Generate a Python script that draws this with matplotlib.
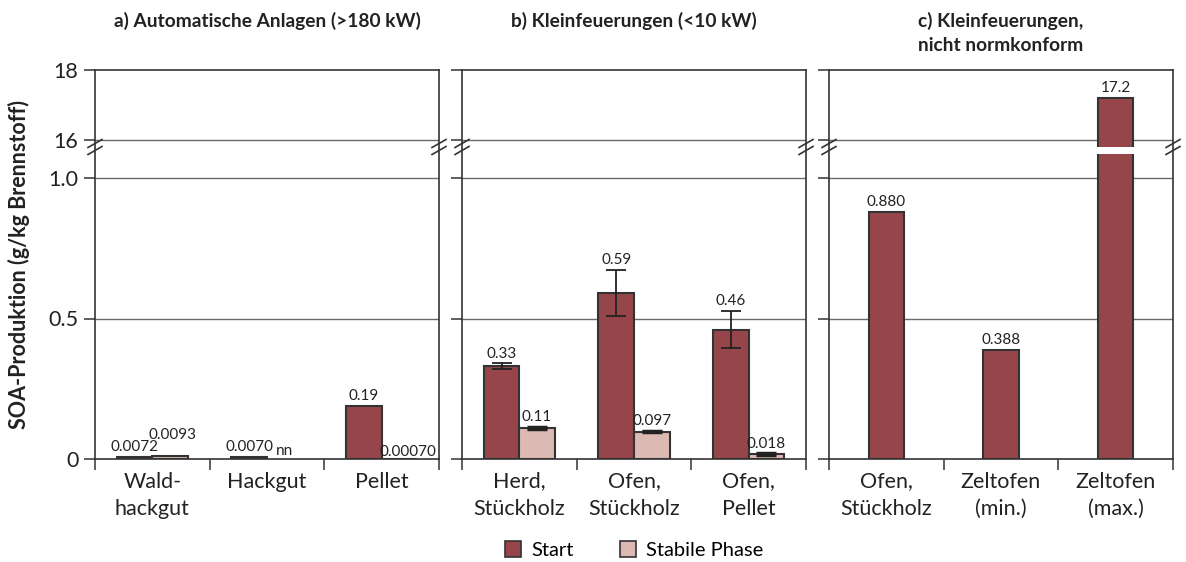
import matplotlib
import numpy as np
matplotlib.use('Agg')
import matplotlib.pyplot as plt
from matplotlib.patches import Patch, Rectangle

plt.rcParams['font.family'] = ['Lato', 'DejaVu Sans']

# data
titles = ["a) Automatische Anlagen (>180 kW)",
          "b) Kleinfeuerungen (<10 kW)",
          "c) Kleinfeuerungen,\nnicht normkonform"]
cats_a = ["Wald-\nhackgut", "Hackgut", "Pellet"]
start_a = [0.0072, 0.0070, 0.19]
stab_a = [0.0093, np.nan, 0.00070]
lab_start_a = ["0.0072", "0.0070", "0.19"]
lab_stab_a = ["0.0093", "nn", "0.00070"]

cats_b = ["Herd,\nStückholz", "Ofen,\nStückholz", "Ofen,\nPellet"]
start_b = [0.33, 0.59, 0.46]
start_b_err = [0.01, 0.082, 0.066]
stab_b = [0.11, 0.097, 0.018]
stab_b_err = [0.004, 0.002, 0.002]
lab_start_b = ["0.33", "0.59", "0.46"]
lab_stab_b = ["0.11", "0.097", "0.018"]

cats_c = ["Ofen,\nStückholz", "Zeltofen\n(min.)", "Zeltofen\n(max.)"]
start_c = [0.880, 0.388, 17.2]
lab_start_c = ["0.880", "0.388", "17.2"]

yticks = [0, 0.5, 1.0, 16, 18]
yticklabels = ["0", "0.5", "1.0", "16", "18"]

c_start = '#96464b'
c_stab = '#dcbab3'
c_edge = '#333333'
c_txt = '#222222'

# broken axis scale: 0..1 linear, 1..16 squeezed, 16..18 compressed
G = 38 / 281.0
K = 35 / 281.0


def fwd(y):
    y = np.asarray(y, dtype=float)
    return np.where(y <= 1, y,
                    np.where(y <= 16, 1 + (y - 1) * G / 15, 1 + G + (y - 16) * K))


def inv(v):
    v = np.asarray(v, dtype=float)
    return np.where(v <= 1, v,
                    np.where(v <= 1 + G, 1 + (v - 1) * 15 / G, 16 + (v - 1 - G) / K))


fig = plt.figure(figsize=(11.86, 5.62), dpi=100)
lefts = [95 / 1186, 462 / 1186, 829 / 1186]
W = 344 / 1186
B = 1 - 459 / 562
H = 389 / 562
axes = [fig.add_axes([l, B, W, H]) for l in lefts]

bw = 0.31
x = np.arange(3)
for i, ax in enumerate(axes):
    ax.set_yscale('function', functions=(fwd, inv))
    ax.set_ylim(0, 18)
    ax.set_xlim(-0.5, 2.5)
    ax.set_yticks(yticks)
    if i == 0:
        ax.set_yticklabels(yticklabels, fontsize=15.5, color=c_txt)
    else:
        ax.set_yticklabels([])
    ax.tick_params(axis='y', direction='out', length=8, width=1.1, color=c_edge, pad=4)
    ax.set_xticks(x)
    ax.set_xticks([-0.5, 0.5, 1.5, 2.5], minor=True)
    ax.tick_params(axis='x', which='major', length=0, pad=9)
    ax.tick_params(axis='x', which='minor', direction='out', length=8, width=1.1, color=c_edge)
    for s in ax.spines.values():
        s.set_color(c_edge)
        s.set_linewidth(1.2)
    for yv in [0.5, 1.0, 16]:
        ax.axhline(yv, color='#6a6a6a', lw=1.0, zorder=0)
    fig.text(lefts[i] + W / 2, 1 - 12 / 562, titles[i], ha='center', va='top',
             fontsize=13.8, fontweight='bold', color=c_txt, linespacing=1.5)
    # break marks
    yb = (459 - 147) / 389
    dx = 7 / 344
    dy = 4 / 389
    for xs in [0, 1]:
        for off in [-3.5 / 389, 3.5 / 389]:
            ax.plot([xs - dx, xs + dx], [yb + off - dy, yb + off + dy],
                    transform=ax.transAxes, color=c_edge, lw=1.2, clip_on=False, zorder=5)


def label(ax, xp, top, txt, dy=2):
    ax.annotate(txt, (xp, top), xytext=(0, dy), textcoords='offset points',
                ha='center', va='bottom', fontsize=11, color=c_txt)


def set_cats(ax, cats):
    ax.set_xticklabels(cats, fontsize=15.5, color=c_txt, linespacing=1.45)


# panel a
ax = axes[0]
ax.bar(x - bw / 2, start_a, bw, color=c_start, edgecolor=c_edge, lw=1.5, zorder=3)
ax.bar(x + bw / 2, stab_a, bw, color=c_stab, edgecolor=c_edge, lw=1.5, zorder=3)
set_cats(ax, cats_a)
for j in range(3):
    label(ax, x[j] - bw / 2, start_a[j], lab_start_a[j], 2)
    sv = 0 if np.isnan(stab_a[j]) else stab_a[j]
    if j == 0:
        label(ax, x[j] + bw / 2 + 0.02, sv, lab_stab_a[j], 10)
    elif j == 1:
        label(ax, x[j] + bw / 2, sv, lab_stab_a[j], 1)
    else:
        label(ax, x[j] + bw / 2 + 0.07, sv, lab_stab_a[j], 0)

# panel b
ax = axes[1]
ax.bar(x - bw / 2, start_b, bw, color=c_start, edgecolor=c_edge, lw=1.5, zorder=3)
ax.bar(x + bw / 2, stab_b, bw, color=c_stab, edgecolor=c_edge, lw=1.5, zorder=3)
ax.errorbar(x - bw / 2, start_b, yerr=start_b_err, fmt='none', ecolor=c_txt,
            elinewidth=1.3, capsize=7, capthick=1.3, zorder=4)
ax.errorbar(x + bw / 2, stab_b, yerr=stab_b_err, fmt='none', ecolor=c_txt,
            elinewidth=1.3, capsize=7, capthick=2.5, zorder=4)
set_cats(ax, cats_b)
for j in range(3):
    label(ax, x[j] - bw / 2, start_b[j] + start_b_err[j], lab_start_b[j], 2)
    label(ax, x[j] + bw / 2, stab_b[j] + stab_b_err[j], lab_stab_b[j], 2)

# panel c
ax = axes[2]
ax.bar(x, start_c, bw, color=c_start, edgecolor=c_edge, lw=1.5, zorder=3)
set_cats(ax, cats_c)
for j in range(3):
    label(ax, x[j], start_c[j], lab_start_c[j], 2)
# white gap through the tall bar at the axis break
ax.add_patch(Rectangle((x[2] - bw / 2 - 0.02, (459 - 154) / 389), bw + 0.04, 7 / 389,
                       transform=ax.get_xaxis_transform(), color='white', zorder=4,
                       lw=0))

fig.text(0.016, B + H * 0.5, "SOA-Produktion (g/kg Brennstoff)", rotation=90,
         ha='center', va='center', fontsize=15.5, fontweight='bold', color=c_txt)

handles = [Patch(facecolor=c_start, edgecolor=c_edge, lw=1.2, label='Start'),
           Patch(facecolor=c_stab, edgecolor=c_edge, lw=1.2, label='Stabile Phase')]
fig.legend(handles=handles, loc='center', bbox_to_anchor=(0.535, 1 - 550 / 562), ncol=2,
           frameon=False, fontsize=14.5, handlelength=0.8, handleheight=0.8,
           columnspacing=2.3, handletextpad=0.5, borderpad=0)

fig.savefig('out.png', dpi=100)
